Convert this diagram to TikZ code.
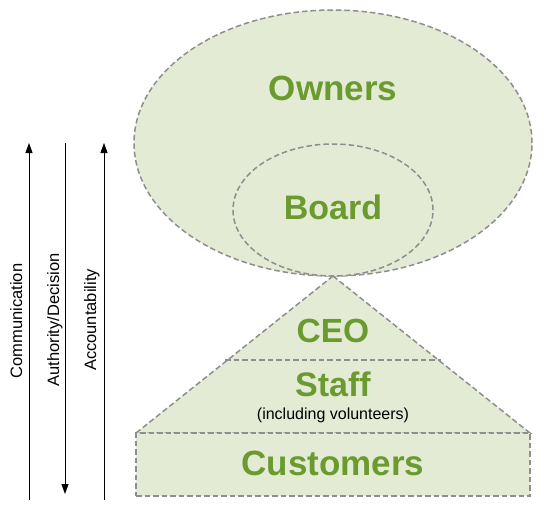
\documentclass[tikz,border=0pt]{standalone}
\usepackage{fontspec}
\setmainfont{Liberation Sans}
\usetikzlibrary{arrows.meta,positioning,shapes.geometric}
\definecolor{leaf}{HTML}{6B9B2E}
\definecolor{leafbg}{HTML}{E3EBD5}
\definecolor{dashgray}{HTML}{8E8E8E}

\begin{document}
\begin{tikzpicture}[x=1pt, y=-1pt,
   zone/.style={draw=dashgray, line width=1.5pt, dash pattern=on 5.5pt off 3pt, fill=leafbg},
   ring/.style={zone, ellipse, inner sep=0pt},
   title/.style={font=\fontsize{35}{35}\selectfont\bfseries, text=leaf, inner sep=0pt},
   flow/.style={-{Triangle[length=10pt,width=7pt]}, line width=0.9pt},
   tag/.style={rotate=90, anchor=base, inner sep=0pt, font=\fontsize{16.5}{16.5}\selectfont},
]
  \useasboundingbox (0,0) rectangle (544,506);

  % governance side
  \node[ring, minimum width=398pt, minimum height=266pt] (owners) at (333,143) {};
  \node[ring, minimum width=200pt, minimum height=132pt] (board) at (333,210) {};
  \node[title] (ownersT) at (333,88) {Owners};
  \node[title, font=\fontsize{34}{34}\selectfont\bfseries] (boardT) at (333,207) {Board};

  % operating side
  \coordinate (apex) at (333,276);
  \coordinate (baseL) at (136,433);
  \coordinate (baseR) at (530,433);
  \coordinate (cutL) at (225,360);
  \coordinate (cutR) at (441,360);
  \draw[zone] (apex) -- (baseR) -- (baseL) -- cycle;
  \draw[zone, fill=none] (cutL) -- (cutR);
  \node[zone, minimum width=394pt, minimum height=63pt, inner sep=0pt] (cust) at (333,464.5) {};
  \node[title, font=\fontsize{33.5}{33.5}\selectfont\bfseries] (ceoT) at (333,331) {CEO};
  \node[title, font=\fontsize{34}{34}\selectfont\bfseries] (staffT) at (333,384) {Staff};
  \node[font=\fontsize{16}{16}\selectfont, inner sep=0pt] (staffN) at (333,415) {(including volunteers)};
  \node[title] (custT) at (333,463) {Customers};

  % flows
  \coordinate (commLo) at (29,500);
  \coordinate (commHi) at (29,143);
  \coordinate (authHi) at (65,143);
  \coordinate (authLo) at (65,494);
  \coordinate (accLo) at (104,500);
  \coordinate (accHi) at (104,143);
  \draw[flow] (commLo) -- (commHi);
  \draw[flow] (authHi) -- (authLo);
  \draw[flow] (accLo) -- (accHi);
  \node[tag] (commT) at (22,321) {Communication};
  \node[tag] (authT) at (59,320) {Authority/Decision};
  \node[tag] (accT) at (96,320) {Accountability};
\end{tikzpicture}
\end{document}
